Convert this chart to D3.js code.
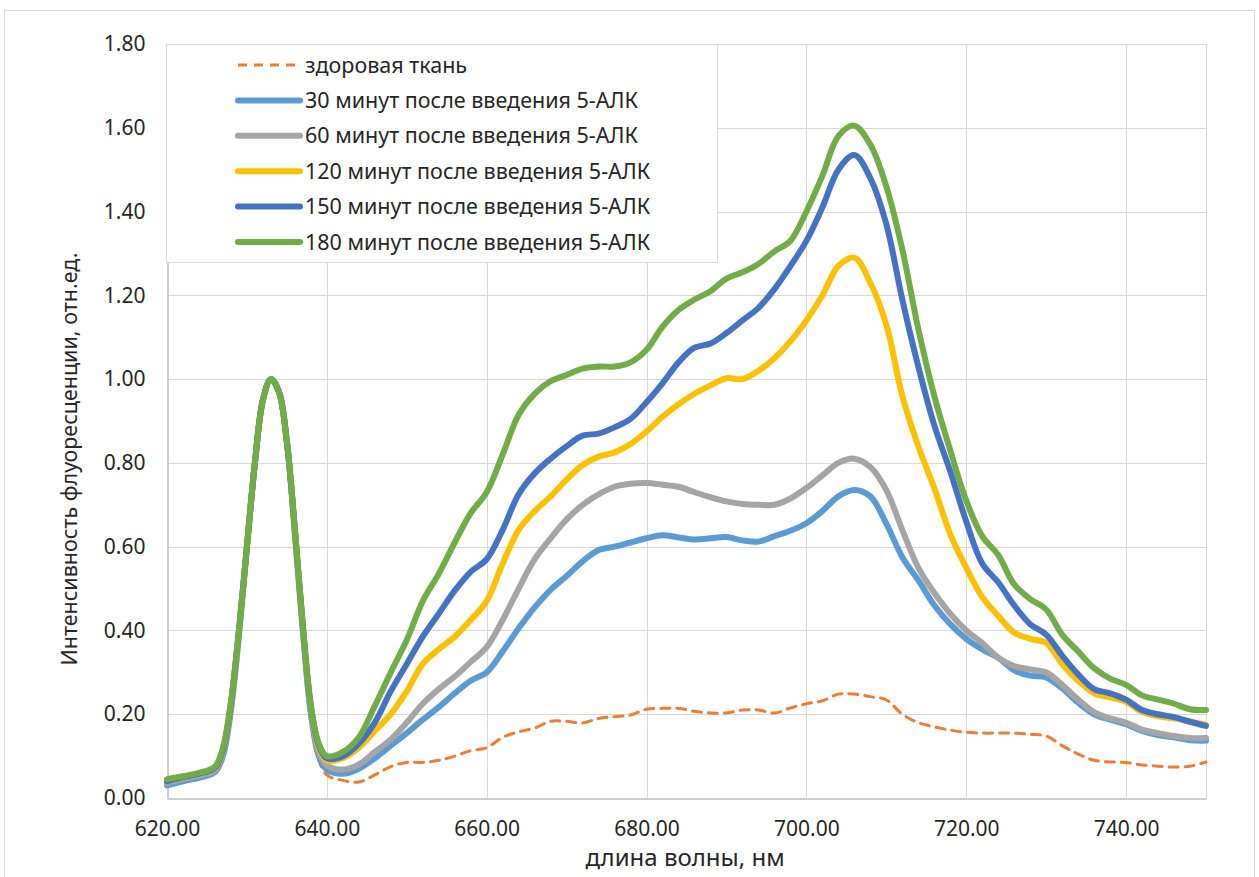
<!DOCTYPE html>
<html><head><meta charset="utf-8">
<script src="https://cdn.jsdelivr.net/npm/d3@7"></script>
<style>body{margin:0;background:#fff;} text{font-family:"Noto Sans","Open Sans",sans-serif;}</style>
</head><body>
<svg id="chart" width="1259" height="877"></svg>
<script>
const wavelengths = [620,622,624,626,627,628,629,630,631,632,633,634,635,636,637,638,639,640,
 642,644,646,648,650,652,654,656,658,660,662,664,666,668,670,672,674,676,678,680,
 682,684,686,688,690,692,694,696,698,700,702,704,706,708,710,712,714,716,718,720,
 722,724,726,728,730,732,734,736,738,740,742,744,746,748,750];

const healthy = [0.035,0.045,0.053,0.066,0.105,0.215,0.39,0.60,0.80,0.95,1.00,0.97,0.85,0.63,0.39,0.19,0.09,0.055,
 0.042,0.038,0.055,0.075,0.085,0.085,0.09,0.10,0.113,0.12,0.145,0.158,0.167,0.183,0.183,0.179,0.19,0.194,0.198,0.212,
 0.214,0.214,0.207,0.203,0.203,0.21,0.21,0.203,0.215,0.225,0.232,0.248,0.248,0.242,0.234,0.20,0.18,0.17,0.162,0.157,
 0.155,0.155,0.155,0.152,0.148,0.125,0.105,0.09,0.086,0.085,0.079,0.076,0.074,0.076,0.086];

const min30 = [0.03,0.04,0.048,0.062,0.10,0.21,0.39,0.60,0.80,0.95,1.00,0.97,0.85,0.63,0.40,0.20,0.10,0.068,
 0.058,0.07,0.095,0.125,0.155,0.187,0.217,0.25,0.28,0.30,0.35,0.405,0.455,0.497,0.53,0.565,0.592,0.60,0.61,0.62,
 0.627,0.622,0.617,0.62,0.623,0.615,0.612,0.625,0.638,0.656,0.685,0.72,0.735,0.72,0.655,0.575,0.52,0.46,0.415,0.38,
 0.355,0.335,0.305,0.292,0.288,0.262,0.228,0.20,0.187,0.176,0.16,0.15,0.145,0.138,0.137];

const min60 = [0.035,0.045,0.053,0.066,0.108,0.22,0.39,0.60,0.80,0.95,1.00,0.97,0.85,0.64,0.40,0.21,0.11,0.078,
 0.068,0.08,0.11,0.14,0.18,0.225,0.26,0.29,0.325,0.36,0.425,0.50,0.57,0.62,0.665,0.70,0.725,0.743,0.75,0.752,
 0.748,0.743,0.73,0.718,0.708,0.702,0.70,0.70,0.715,0.74,0.77,0.80,0.81,0.79,0.735,0.64,0.55,0.49,0.44,0.40,
 0.37,0.335,0.315,0.307,0.30,0.27,0.235,0.205,0.19,0.18,0.163,0.155,0.148,0.143,0.143];

const min120 = [0.04,0.05,0.058,0.072,0.115,0.225,0.40,0.60,0.80,0.95,1.00,0.97,0.85,0.64,0.41,0.22,0.12,0.09,
 0.095,0.12,0.16,0.20,0.255,0.32,0.355,0.385,0.425,0.47,0.56,0.64,0.685,0.72,0.76,0.795,0.815,0.825,0.845,0.875,
 0.91,0.94,0.965,0.985,1.002,1.00,1.02,1.05,1.09,1.14,1.20,1.27,1.29,1.23,1.13,0.96,0.84,0.74,0.63,0.55,
 0.48,0.435,0.395,0.38,0.37,0.32,0.28,0.25,0.24,0.23,0.205,0.195,0.19,0.182,0.175];

const min150 = [0.04,0.05,0.058,0.072,0.115,0.225,0.40,0.60,0.80,0.95,1.00,0.97,0.85,0.64,0.41,0.22,0.125,0.095,
 0.10,0.13,0.18,0.255,0.32,0.385,0.44,0.495,0.54,0.57,0.64,0.725,0.775,0.81,0.84,0.865,0.87,0.885,0.905,0.945,
 0.99,1.04,1.075,1.085,1.11,1.14,1.17,1.215,1.27,1.33,1.41,1.50,1.535,1.48,1.37,1.19,1.03,0.89,0.78,0.66,
 0.56,0.515,0.46,0.415,0.39,0.34,0.295,0.26,0.25,0.235,0.21,0.20,0.193,0.182,0.172];

const min180 = [0.045,0.052,0.06,0.075,0.12,0.23,0.40,0.60,0.80,0.95,1.00,0.97,0.85,0.64,0.41,0.22,0.13,0.10,
 0.11,0.145,0.22,0.30,0.377,0.47,0.535,0.61,0.68,0.73,0.82,0.915,0.965,0.995,1.01,1.025,1.03,1.03,1.04,1.07,
 1.125,1.165,1.19,1.21,1.24,1.255,1.275,1.305,1.33,1.40,1.485,1.58,1.605,1.56,1.46,1.31,1.12,0.96,0.83,0.71,
 0.625,0.58,0.51,0.475,0.45,0.39,0.35,0.31,0.285,0.27,0.245,0.235,0.225,0.212,0.21];

const seriesNames = ["здоровая ткань","30 минут после введения 5-АЛК","60 минут после введения 5-АЛК",
 "120 минут после введения 5-АЛК","150 минут после введения 5-АЛК","180 минут после введения 5-АЛК"];
const seriesValues = [healthy, min30, min60, min120, min150, min180];
const seriesColors = ["#ED7D31","#5B9BD5","#A5A5A5","#FFC000","#4472C4","#70AD47"];

const xTicks = [620,640,660,680,700,720,740];
const yTicks = [0,0.2,0.4,0.6,0.8,1.0,1.2,1.4,1.6,1.8];
const xTitle = "длина волны, нм";
const yTitle = "Интенсивность флуоресценции, отн.ед.";

const svg = d3.select("#chart");
const L = 167, R = 1206, T = 44, B = 798;
const x = d3.scaleLinear().domain([620,750]).range([L,R]);
const y = d3.scaleLinear().domain([0,1.8]).range([B,T]);

// outer frame
svg.append("rect").attr("x",4.5).attr("y",10.5).attr("width",1250).attr("height",880)
  .attr("fill","#fff").attr("stroke","#d9d9d9").attr("stroke-width",1);

// gridlines
svg.append("g").selectAll("line").data(yTicks.slice(1)).join("line")
  .attr("x1",L).attr("x2",R).attr("y1",d=>Math.round(y(d))+0.5).attr("y2",d=>Math.round(y(d))+0.5)
  .attr("stroke","#d9d9d9").attr("stroke-width",1);
svg.append("g").selectAll("line").data(xTicks.slice(1).concat([750])).join("line")
  .attr("y1",T).attr("y2",B).attr("x1",d=>Math.round(x(d))+0.5).attr("x2",d=>Math.round(x(d))+0.5)
  .attr("stroke","#d9d9d9").attr("stroke-width",1);

// axes
const xAxis = svg.append("g").attr("transform",`translate(0,${B+0.5})`)
  .call(d3.axisBottom(x).tickValues(xTicks).tickFormat(d3.format(".2f")).tickSize(0).tickPadding(23));
const yAxis = svg.append("g").attr("transform",`translate(${L+0.5},0)`)
  .call(d3.axisLeft(y).tickValues(yTicks).tickFormat(d3.format(".2f")).tickSize(0).tickPadding(22));
[xAxis,yAxis].forEach(g=>{
  g.select(".domain").attr("stroke","#bfbfbf").attr("stroke-width",1.5);
  g.selectAll("text").attr("font-size",21).attr("fill","#262626")
   .attr("font-family","'Noto Sans',sans-serif");
});

// lines
const line = d3.line().x((d,i)=>x(wavelengths[i])).y(d=>y(d)).curve(d3.curveCatmullRom.alpha(0.5));
const plot = svg.append("g");
seriesValues.forEach((vals,k)=>{
  plot.append("path").attr("d",line(vals)).attr("fill","none")
    .attr("stroke",seriesColors[k]).attr("stroke-width",k===0?3:6)
    .attr("stroke-dasharray",k===0?"9,7":null)
    .attr("stroke-linejoin","round").attr("stroke-linecap","round");
});

// legend
const lg = svg.append("g");
lg.append("rect").attr("x",166.5).attr("y",44.5).attr("width",551).attr("height",218)
  .attr("fill","#fff").attr("stroke","#d9d9d9");
seriesNames.forEach((n,k)=>{
  const cy = 65 + k*35.4;
  lg.append("line").attr("x1",238).attr("x2",300).attr("y1",cy).attr("y2",cy)
    .attr("stroke",seriesColors[k]).attr("stroke-width",k===0?3:6)
    .attr("stroke-dasharray",k===0?"9,7":null).attr("stroke-linecap",k===0?"butt":"round");
  lg.append("text").attr("x",305).attr("y",cy).attr("dy","0.35em").attr("font-size",21.5)
    .attr("fill","#262626").text(n);
});

// titles
svg.append("text").attr("x",685).attr("y",866).attr("text-anchor","middle")
  .attr("font-size",24).attr("fill","#262626").text(xTitle);
svg.append("text").attr("transform",`translate(77,459) rotate(-90)`).attr("text-anchor","middle")
  .attr("font-size",21.5).attr("fill","#262626").text(yTitle);
</script>
</body></html>
